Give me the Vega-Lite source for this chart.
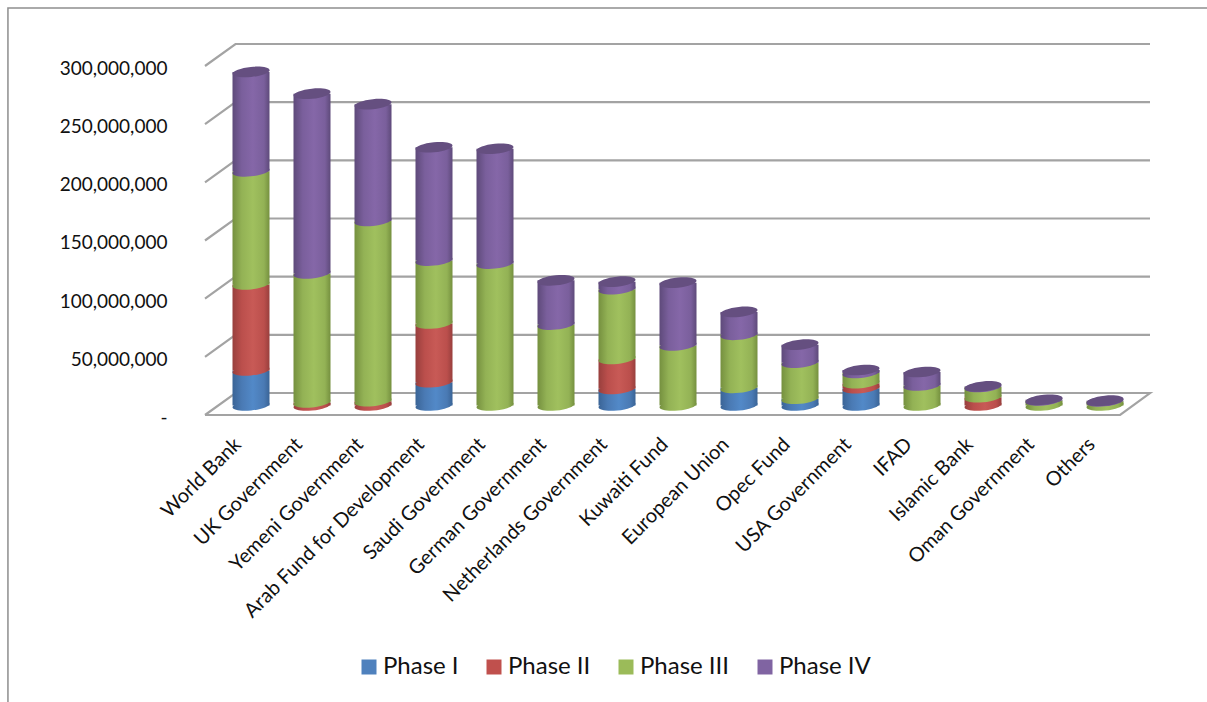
{"$schema":"https://vega.github.io/schema/vega-lite/v6.json","autosize":"none","width":945,"height":371,"padding":{"left":205,"top":44,"right":57,"bottom":287},"background":"white","config":{"view":{"stroke":null},"font":"Lato"},
"layer":[
{"layer":[
{"data":{"values":[
{"line":"frame","ord":0,"x":-3.23,"y":-246700000},{"line":"frame","ord":1,"x":-3.23,"y":349900000},{"line":"frame","ord":2,"x":16.43,"y":349900000}]},
"mark":{"type":"line","stroke":"#8e8e8e","strokeWidth":1.5},
"encoding":{"x":{"field":"x","type":"quantitative","axis":null,"scale":{"domain":[0,15.49],"nice":false,"zero":false}},"y":{"field":"y","type":"quantitative","title":null,"scale":{"domain":[0,318900000],"nice":false,"zero":false},"axis":{"values":[0,50000000,100000000,150000000,200000000,250000000,300000000],"grid":false,"domain":false,"ticks":false,"labelPadding":38,"labelOffset":2.5,"labelFont":"Lato","labelFontSize":19,"labelColor":"#111111","labelExpr":"datum.value==0?'-\u00a0\u00a0\u00a0\u00a0\u00a0\u00a0':format(datum.value,',')"}},"order":{"field":"ord"}}},
{"data":{"values":[
{"line":"floor","ord":0,"x":0,"y":0},{"line":"floor","ord":1,"x":0.5,"y":18900000},{"line":"floor","ord":2,"x":15.49,"y":18900000},{"line":"floor","ord":3,"x":15,"y":0},{"line":"floor","ord":4,"x":0,"y":0},
{"line":"g50","ord":0,"x":0,"y":50000000},{"line":"g50","ord":1,"x":0.5,"y":68900000},{"line":"g50","ord":2,"x":15.49,"y":68900000},
{"line":"g100","ord":0,"x":0,"y":100000000},{"line":"g100","ord":1,"x":0.5,"y":118900000},{"line":"g100","ord":2,"x":15.49,"y":118900000},
{"line":"g150","ord":0,"x":0,"y":150000000},{"line":"g150","ord":1,"x":0.5,"y":168900000},{"line":"g150","ord":2,"x":15.49,"y":168900000},
{"line":"g200","ord":0,"x":0,"y":200000000},{"line":"g200","ord":1,"x":0.5,"y":218900000},{"line":"g200","ord":2,"x":15.49,"y":218900000},
{"line":"g250","ord":0,"x":0,"y":250000000},{"line":"g250","ord":1,"x":0.5,"y":268900000},{"line":"g250","ord":2,"x":15.49,"y":268900000},
{"line":"g300","ord":0,"x":0,"y":300000000},{"line":"g300","ord":1,"x":0.5,"y":318900000},{"line":"g300","ord":2,"x":15.49,"y":318900000}]},
"mark":{"type":"line","stroke":"#a3a3a3","strokeWidth":2.2},
"encoding":{"x":{"field":"x","type":"quantitative","axis":null},"y":{"field":"y","type":"quantitative"},"detail":{"field":"line"},"order":{"field":"ord"}}}
]},
{"data":{"values":[
{"donor":"World Bank","phase":"Phase I","value":30100000},{"donor":"World Bank","phase":"Phase II","value":74000000},{"donor":"World Bank","phase":"Phase III","value":97200000},{"donor":"World Bank","phase":"Phase IV","value":85400000},
{"donor":"UK Government","phase":"Phase II","value":2600000},{"donor":"UK Government","phase":"Phase III","value":110900000},{"donor":"UK Government","phase":"Phase IV","value":154500000},
{"donor":"Yemeni Government","phase":"Phase II","value":3700000},{"donor":"Yemeni Government","phase":"Phase III","value":155000000},{"donor":"Yemeni Government","phase":"Phase IV","value":100300000},
{"donor":"Arab Fund for Development","phase":"Phase I","value":20000000},{"donor":"Arab Fund for Development","phase":"Phase II","value":50500000},{"donor":"Arab Fund for Development","phase":"Phase III","value":54100000},{"donor":"Arab Fund for Development","phase":"Phase IV","value":97400000},
{"donor":"Saudi Government","phase":"Phase III","value":122000000},{"donor":"Saudi Government","phase":"Phase IV","value":98700000},
{"donor":"German Government","phase":"Phase III","value":69600000},{"donor":"German Government","phase":"Phase IV","value":38000000},
{"donor":"Netherlands Government","phase":"Phase I","value":14300000},{"donor":"Netherlands Government","phase":"Phase II","value":25700000},{"donor":"Netherlands Government","phase":"Phase III","value":60000000},{"donor":"Netherlands Government","phase":"Phase IV","value":6400000},
{"donor":"Kuwaiti Fund","phase":"Phase III","value":51600000},{"donor":"Kuwaiti Fund","phase":"Phase IV","value":54000000},
{"donor":"European Union","phase":"Phase I","value":15200000},{"donor":"European Union","phase":"Phase III","value":45600000},{"donor":"European Union","phase":"Phase IV","value":19600000},
{"donor":"Opec Fund","phase":"Phase I","value":5800000},{"donor":"Opec Fund","phase":"Phase III","value":31000000},{"donor":"Opec Fund","phase":"Phase IV","value":15500000},
{"donor":"USA Government","phase":"Phase I","value":14900000},{"donor":"USA Government","phase":"Phase II","value":4300000},{"donor":"USA Government","phase":"Phase III","value":8800000},{"donor":"USA Government","phase":"Phase IV","value":2500000},
{"donor":"IFAD","phase":"Phase III","value":17200000},{"donor":"IFAD","phase":"Phase IV","value":11600000},
{"donor":"Islamic Bank","phase":"Phase II","value":7100000},{"donor":"Islamic Bank","phase":"Phase III","value":8800000},{"donor":"Islamic Bank","phase":"Phase IV","value":500000},
{"donor":"Oman Government","phase":"Phase III","value":4400000},{"donor":"Oman Government","phase":"Phase IV","value":500000},
{"donor":"Others","phase":"Phase III","value":3600000},{"donor":"Others","phase":"Phase IV","value":500000}]},
"transform":[{"stack":"value","groupby":["donor"],"sort":[{"field":"phase","order":"ascending"}],"as":["y0","y1"]},{"joinaggregate":[{"op":"max","field":"y1","as":"top"}],"groupby":["donor"]}],
"encoding":{"x":{"field":"donor","type":"nominal","sort":null,"title":null,"scale":{"type":"band","range":[15.5,930.5],"paddingInner":0,"paddingOuter":0},"axis":{"orient":"bottom","domain":false,"ticks":false,"labelAngle":-45,"labelAlign":"right","labelBaseline":"middle","labelPadding":26,"labelOffset":-13,"labelFont":"Lato","labelFontSize":20,"labelColor":"#111111","labelLimit":400}},"y":{"field":"y0","type":"quantitative","title":null,"axis":null,"scale":{"domain":[-8170000,310750000],"nice":false,"zero":false}}},
"layer":[
{"mark":{"type":"bar","width":30},"encoding":{"y2":{"field":"y1"},"color":{"field":"phase","type":"nominal","scale":{"domain":["Phase I","Phase II","Phase III","Phase IV"],"range":["#4f81bd","#c0504d","#9bbb59","#8064a2"]},"legend":{"title":null,"orient":"none","legendX":152,"legendY":611,"direction":"horizontal","columns":4,"symbolType":"square","symbolSize":225,"symbolStrokeWidth":0,"labelFont":"Lato","labelFontSize":24,"labelColor":"#111111","columnPadding":23,"labelOffset":2}}}},
{"transform":[{"filter":"datum.phase=='Phase I'"}],"mark":{"type":"bar","width":37,"fill":{"gradient":"linear","x1":0,"y1":0,"x2":1,"y2":0,"stops":[{"offset":0,"color":"#3a6496"},{"offset":0.25,"color":"#4a7ab4"},{"offset":0.55,"color":"#5289c8"},{"offset":0.85,"color":"#4a7ab4"},{"offset":1,"color":"#3a6496"}]}},"encoding":{"y2":{"field":"y1"}}},
{"transform":[{"filter":"datum.phase=='Phase I'"}],"mark":{"type":"point","shape":"M-1,0.1 A1,0.27 -6 1 1 1,-0.1 A1,0.27 -6 1 1 -1,0.1Z","size":1369,"filled":true,"opacity":1,"fill":{"gradient":"linear","x1":0,"y1":0,"x2":1,"y2":0,"stops":[{"offset":0,"color":"#3a6496"},{"offset":0.25,"color":"#4a7ab4"},{"offset":0.55,"color":"#5289c8"},{"offset":0.85,"color":"#4a7ab4"},{"offset":1,"color":"#3a6496"}]}}},
{"transform":[{"filter":"datum.phase=='Phase II'"}],"mark":{"type":"bar","width":37,"fill":{"gradient":"linear","x1":0,"y1":0,"x2":1,"y2":0,"stops":[{"offset":0,"color":"#983f3d"},{"offset":0.25,"color":"#bb4f4c"},{"offset":0.55,"color":"#c85a56"},{"offset":0.85,"color":"#bb4f4c"},{"offset":1,"color":"#983f3d"}]}},"encoding":{"y2":{"field":"y1"}}},
{"transform":[{"filter":"datum.phase=='Phase II'"}],"mark":{"type":"point","shape":"M-1,0.1 A1,0.27 -6 1 1 1,-0.1 A1,0.27 -6 1 1 -1,0.1Z","size":1369,"filled":true,"opacity":1,"fill":{"gradient":"linear","x1":0,"y1":0,"x2":1,"y2":0,"stops":[{"offset":0,"color":"#983f3d"},{"offset":0.25,"color":"#bb4f4c"},{"offset":0.55,"color":"#c85a56"},{"offset":0.85,"color":"#bb4f4c"},{"offset":1,"color":"#983f3d"}]}}},
{"transform":[{"filter":"datum.phase=='Phase III'"}],"mark":{"type":"bar","width":37,"fill":{"gradient":"linear","x1":0,"y1":0,"x2":1,"y2":0,"stops":[{"offset":0,"color":"#75903f"},{"offset":0.25,"color":"#93b255"},{"offset":0.55,"color":"#a0c05e"},{"offset":0.85,"color":"#93b255"},{"offset":1,"color":"#75903f"}]}},"encoding":{"y2":{"field":"y1"}}},
{"transform":[{"filter":"datum.phase=='Phase III'"}],"mark":{"type":"point","shape":"M-1,0.1 A1,0.27 -6 1 1 1,-0.1 A1,0.27 -6 1 1 -1,0.1Z","size":1369,"filled":true,"opacity":1,"fill":{"gradient":"linear","x1":0,"y1":0,"x2":1,"y2":0,"stops":[{"offset":0,"color":"#75903f"},{"offset":0.25,"color":"#93b255"},{"offset":0.55,"color":"#a0c05e"},{"offset":0.85,"color":"#93b255"},{"offset":1,"color":"#75903f"}]}}},
{"transform":[{"filter":"datum.phase=='Phase IV'"}],"mark":{"type":"bar","width":37,"fill":{"gradient":"linear","x1":0,"y1":0,"x2":1,"y2":0,"stops":[{"offset":0,"color":"#5e4a7a"},{"offset":0.25,"color":"#7a5f9c"},{"offset":0.55,"color":"#8567a8"},{"offset":0.85,"color":"#7a5f9c"},{"offset":1,"color":"#5e4a7a"}]}},"encoding":{"y2":{"field":"y1"}}},
{"transform":[{"filter":"datum.phase=='Phase IV'"}],"mark":{"type":"point","shape":"M-1,0.1 A1,0.27 -6 1 1 1,-0.1 A1,0.27 -6 1 1 -1,0.1Z","size":1369,"filled":true,"opacity":1,"fill":{"gradient":"linear","x1":0,"y1":0,"x2":1,"y2":0,"stops":[{"offset":0,"color":"#5e4a7a"},{"offset":0.25,"color":"#7a5f9c"},{"offset":0.55,"color":"#8567a8"},{"offset":0.85,"color":"#7a5f9c"},{"offset":1,"color":"#5e4a7a"}]}}},
{"transform":[{"filter":"datum.y1==datum.top"}],"mark":{"type":"point","shape":"M-1,0.1 A1,0.27 -6 1 1 1,-0.1 A1,0.27 -6 1 1 -1,0.1Z","size":1369,"filled":true,"opacity":1,"fill":"#654f80"},"encoding":{"y":{"field":"y1","type":"quantitative"}}}
]}
],
"resolve":{"scale":{"x":"independent","y":"independent"},"axis":{"x":"independent","y":"independent"}}}
